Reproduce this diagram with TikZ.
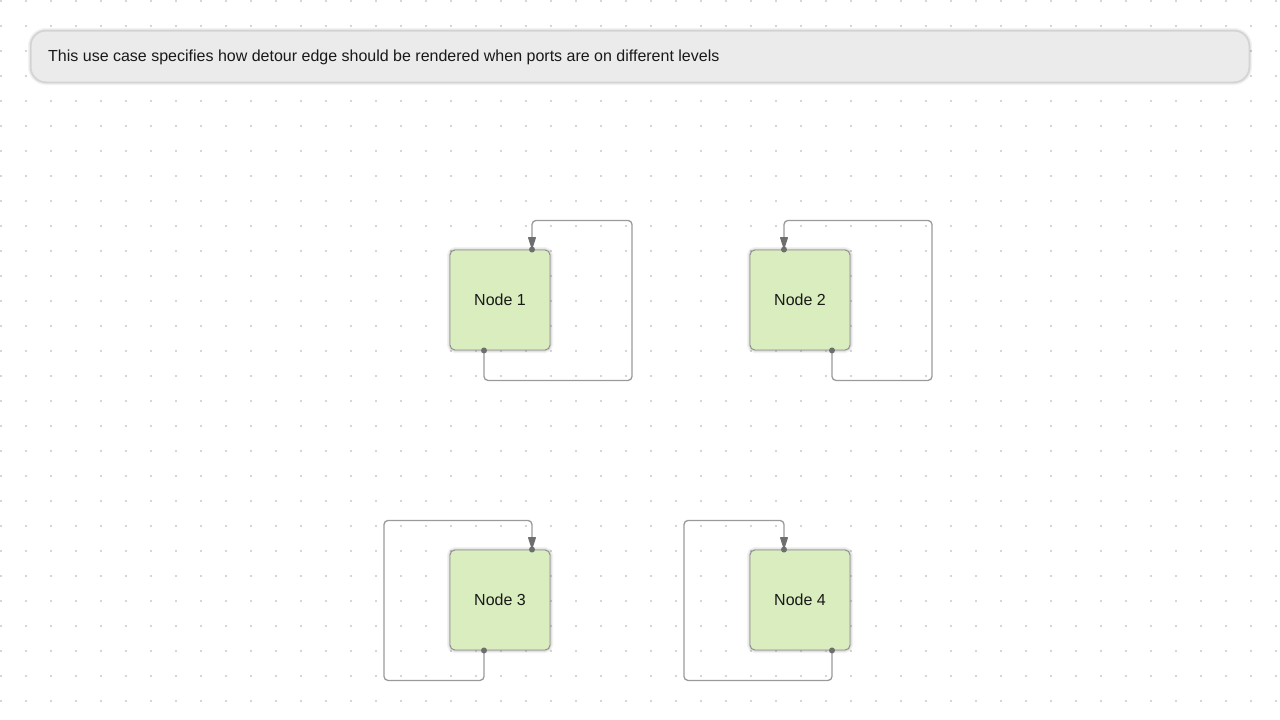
\documentclass[tikz,border=0pt]{standalone}
\usepackage{fontspec}
\setmainfont{Liberation Sans}
\usetikzlibrary{arrows.meta,calc}

\definecolor{griddot}{HTML}{C8C8C8}
\definecolor{nodefill}{HTML}{DAEDBE}
\definecolor{nodeline}{HTML}{8E8E8E}
\definecolor{bannerfill}{HTML}{EBEBEB}
\definecolor{bannerline}{HTML}{D4D4D4}
\definecolor{edgeline}{HTML}{9A9A9A}
\definecolor{portdot}{HTML}{6E6E6E}

\tikzset{
  % soft halo drawn as stacked translucent strokes behind a shape
  halo/.style={
    preaction={draw=black, draw opacity=0.05, line width=6pt},
    preaction={draw=black, draw opacity=0.06, line width=3.5pt},
    preaction={draw=black, draw opacity=0.07, line width=2pt}},
  box/.style={halo, draw=nodeline, line width=0.9pt, fill=nodefill, rounded corners=5pt,
    minimum width=100pt, minimum height=100pt, inner sep=0pt,
    font=\fontsize{16}{19}\selectfont, text=black!90},
  banner/.style={halo, draw=bannerline, line width=1pt, fill=bannerfill, rounded corners=15pt,
    minimum width=1218pt, minimum height=51pt, inner sep=0pt},
  bannertext/.style={anchor=base west, inner sep=0pt, font=\fontsize{16}{19}\selectfont, text=black!90},
  edge/.style={draw=edgeline, line width=1.3pt, rounded corners=4pt,
    -{Triangle[width=8pt,length=13pt,round,color=portdot]}, shorten >=1pt},
  port/.style={circle, fill=portdot, inner sep=0pt, minimum size=6pt}
}

\begin{document}
\begin{tikzpicture}[x=1pt,y=-1pt]
  % canvas
  \fill[white] (0,0) rectangle (1280,720);
  \useasboundingbox (0,0) rectangle (1280,720);

  % dotted background grid
  \foreach \gx in {0,25,...,1275} {
    \foreach \gy in {0,25,...,700} {
      \fill[griddot] (\gx+1,\gy+1) circle (1.15pt);
    }
  }

  % description banner
  \node[banner] (banner) at (640,56.5) {};
  \node[bannertext] (bannerlabel) at (48,61.5) {This use case specifies how detour edge should be rendered when ports are on different levels};

  % nodes
  \node[box] (n1) at (500,300) {Node 1};
  \node[box] (n2) at (800,300) {Node 2};
  \node[box] (n3) at (500,600) {Node 3};
  \node[box] (n4) at (800,600) {Node 4};

  % ports (source on bottom, target on top)
  \coordinate (n1s) at ($(n1.south)+(-16,0)$);
  \coordinate (n1t) at ($(n1.north)+(32,0)$);
  \coordinate (n2s) at ($(n2.south)+(32,0)$);
  \coordinate (n2t) at ($(n2.north)+(-16,0)$);
  \coordinate (n3s) at ($(n3.south)+(-16,0)$);
  \coordinate (n3t) at ($(n3.north)+(32,0)$);
  \coordinate (n4s) at ($(n4.south)+(32,0)$);
  \coordinate (n4t) at ($(n4.north)+(-16,0)$);

  % detour edges
  \draw[edge] (n1s) -- ++(0,30) -- ++(148,0) -- ++(0,-160) -- ++(-100,0) -- (n1t);
  \draw[edge] (n2s) -- ++(0,30) -- ++(100,0) -- ++(0,-160) -- ++(-148,0) -- (n2t);
  \draw[edge] (n3s) -- ++(0,30) -- ++(-100,0) -- ++(0,-160) -- ++(148,0) -- (n3t);
  \draw[edge] (n4s) -- ++(0,30) -- ++(-148,0) -- ++(0,-160) -- ++(100,0) -- (n4t);

  % port markers
  \foreach \p in {n1s,n1t,n2s,n2t,n3s,n3t,n4s,n4t} {
    \node[port] (dot-\p) at (\p) {};
  }
\end{tikzpicture}
\end{document}
